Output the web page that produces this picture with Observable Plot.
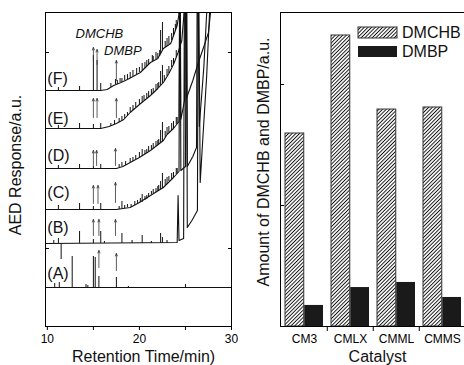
<!DOCTYPE html>
<html><head><meta charset="utf-8">
<script src="https://cdn.jsdelivr.net/npm/d3@7"></script>
<script src="https://cdn.jsdelivr.net/npm/@observablehq/plot@0.6"></script>
<style>
html,body{margin:0;padding:0;background:#fff;}
#wrap{position:relative;width:464px;height:365px;overflow:hidden;font-family:"Liberation Sans",Arial,sans-serif;}
#wrap svg{position:absolute;top:0;}
</style></head><body><div id="wrap"></div>
<script>
// ---------- Left panel: chromatograms (retention time in min, response in a.u.) ----------
const traceNames = ["A", "B", "C", "D", "E", "F"];
const curveA = [[9.8,39],[30,39]];
const curveB = [[9.8,83],[24.1,84],[24.2,131],[24.3,86],[24.8,88],[24.9,400],[25.1,400],[25.2,99],[25.7,106],[26.3,116],[26.4,400],[26.6,144],[26.9,190],[27.3,250],[27.7,330]];
const curveC = [[9.8,117],[17.5,117],[18.2,118],[19.0,119],[20.0,124],[21.2,131],[22.6,139],[23.7,149],[24.3,155],[24.4,400],[24.5,156],[25.0,160],[25.1,400],[25.2,160],[25.8,170],[26.2,179],[26.3,400],[26.5,200],[27.0,260],[27.4,330]];
const curveD = [[9.8,158],[17.5,158],[18.2,160],[19.0,164],[20.0,169],[21.2,176],[22.6,186],[23.0,192],[23.7,198],[24.3,205],[24.4,400],[24.5,207],[24.9,226],[25.0,400],[25.1,228],[25.8,246],[26.4,264],[27.0,280],[27.5,294],[27.9,330]];
const curveE = [[9.8,198],[15.8,198],[16.7,200],[17.5,203],[18.3,207],[19.0,214],[20.0,222],[21.2,231],[22.0,238],[22.6,244],[23.2,253],[23.7,262],[24.2,274],[24.6,286],[25.0,330]];
const curveF = [[9.8,236],[15.8,236],[16.5,237],[17.2,241],[18.0,244],[18.7,247],[19.5,251],[20.1,254],[21.2,264],[22.0,268],[22.6,278],[23.4,283],[24.1,301],[24.6,330]];

// peaks: [time, base, top]
const peaksA = [[10.8,39,43],[11.3,39,44],[12.7,39,70],[14.2,39,42],[14.4,39,41],[15.0,39,70],[15.2,39,69],[15.6,39,50],[17.5,39,49],[18.8,39,40],[25.0,39,42]];
const peaksB = [[10.7,83,86],[11.2,83,88],[11.5,83,67],[13.5,83,95],[15.0,83,87],[15.8,83,95],[16.2,83,85],[18.1,83,93],[19.2,83,86],[20.3,83,91],[21.3,83,85],[22.3,83,93],[22.5,83,89],[23.0,83,86]];
const peaksC = [[11.2,117,121],[13.5,117,123],[15.0,117,120],[15.8,117,123],[17.8,117,120],[18.1,118,125],[18.4,118,121],[18.7,119,122],[19.1,119,122],[19.5,121,125],[19.8,123,126],[20.1,124,128],[20.3,124,132],[20.6,126,130],[20.8,127,131],[21.0,129,133],[21.3,132,135],[21.5,133,137],[21.8,134,138],[22.0,135,140],[22.1,136,141],[22.3,137,145],[22.5,138,153],[22.8,141,147],[23.0,142,149],[23.2,145,150],[23.5,147,153],[23.7,149,154],[24.0,152,158],[24.1,153,158]];
const peaksD = [[11.2,158,161],[13.5,158,162],[15.0,158,160],[15.8,158,162],[17.8,159,162],[18.1,160,164],[18.5,161,165],[19.0,164,168],[19.3,165,169],[19.6,167,171],[20.0,169,174],[20.3,170,177],[20.6,172,176],[20.8,173,177],[21.0,175,180],[21.3,177,181],[21.5,178,183],[21.8,180,185],[22.0,181,186],[22.1,182,187],[22.3,184,196],[22.5,185,204],[22.8,189,195],[23.0,192,199],[23.2,194,200],[23.5,196,203],[23.7,198,205],[24.0,202,209],[24.1,203,209]];
const peaksE = [[11.2,198,201],[13.5,198,203],[15.0,198,202],[15.8,198,203],[16.9,200,203],[17.3,202,206],[17.8,204,208],[18.1,206,210],[18.4,208,212],[18.7,210,214],[19.0,214,219],[19.3,216,221],[19.6,219,224],[20.0,222,227],[20.3,224,230],[20.5,226,231],[20.8,228,233],[21.0,229,235],[21.3,232,237],[21.5,233,238],[21.8,236,242],[22.0,238,243],[22.1,239,244],[22.3,241,255],[22.5,243,261],[22.7,245,251],[23.0,250,257],[23.2,253,260],[23.5,259,266],[23.7,262,268],[24.0,269,276],[24.4,280,287]];
const peaksF = [[11.2,236,239],[13.5,236,240],[15.0,236,271],[15.4,236,266],[15.8,236,243],[16.9,239,243],[17.4,242,247],[17.6,242,246],[17.9,244,248],[18.1,244,248],[18.4,246,251],[18.7,247,252],[19.0,248,254],[19.3,250,256],[19.7,252,258],[20.0,254,259],[20.3,256,263],[20.6,258,264],[20.8,260,266],[21.0,262,267],[21.4,265,271],[21.5,265,270],[21.8,267,274],[22.0,268,273],[22.2,270,276],[22.3,272,296],[22.5,276,304],[22.8,279,285],[23.0,280,288],[23.2,282,290],[23.5,286,293],[23.7,290,298],[23.9,295,302],[24.0,298,306],[24.3,312,318]];

// arrows marking DMCHB / DMBP: [time, from, to]
const arrowsA = [[15.6,59,76],[17.5,56,73]];
const arrowsB = [[15.0,91,107],[15.6,91,107],[17.4,91,107]];
const arrowsC = [[15.0,123,141],[15.5,123,141],[17.4,124,144]];
const arrowsD = [[15.0,161,176],[15.35,161,176],[17.4,161,178]];
const arrowsE = [[15.0,209,228],[15.4,209,228],[17.5,209,228]];
const arrowsF = [[15.0,266,279],[15.4,262,277],[17.5,246,266]];

const traceLabels = ["(A)", "(B)", "(C)", "(D)", "(E)", "(F)"];
const xTicksLeft = [10, 15, 20, 25, 30];
const yTicksLeft = [78, 274];

// ---------- Right panel: bar chart ----------
const categories = ["CM3", "CMLX", "CMML", "CMMS"];
const dmchb = [1.595, 2.405, 1.793, 1.81];
const dmbp = [0.174, 0.322, 0.364, 0.24];
const yTicksRight = [0, 1, 2];

// ---------- build tables ----------
const curves = [curveA, curveB, curveC, curveD, curveE, curveF];
const peaks = [peaksA, peaksB, peaksC, peaksD, peaksE, peaksF];
const arrows = [arrowsA, arrowsB, arrowsC, arrowsD, arrowsE, arrowsF];
const lineRows = curves.flatMap((c, i) => c.map(([t, v]) => ({trace: traceNames[i], t, v})));
const peakRows = peaks.flatMap((p, i) => p.map(([t, y1, y2]) => ({trace: traceNames[i], t, y1, y2})));
const arrowRows = arrows.flatMap((a, i) => a.map(([t, y1, y2]) => ({trace: traceNames[i], t, y1, y2})));
const labelAnchors = {x: 10.0, y: [53, 99, 134, 171, 208, 248]};
const labelRows = traceLabels.map((s, i) => ({s, x: labelAnchors.x, y: labelAnchors.y[i]}));
const compoundRows = [{s: "DMCHB", x: 15.65, y: 293}, {s: "DMBP", x: 18.2, y: 276}];

const font = "Liberation Sans, Arial, sans-serif";
const wrap = document.getElementById("wrap");

const left = Plot.plot({
  width: 240, height: 365,
  marginLeft: 45, marginRight: 9, marginTop: 12, marginBottom: 39,
  style: {fontFamily: font, fontSize: "12px", color: "black", background: "transparent", overflow: "visible"},
  x: {domain: [9.8, 30], ticks: xTicksLeft, tickFormat: d => d % 10 === 0 ? String(d) : "", tickSize: 4, tickPadding: 4, label: null},
  y: {domain: [0, 314], ticks: yTicksLeft, tickFormat: () => "", tickSize: -4, axis: "both", label: null},
  marks: [
    Plot.line(lineRows, {x: "t", y: "v", z: "trace", stroke: "#111", strokeWidth: 1.1, clip: true}),
    Plot.ruleX(peakRows, {x: "t", y1: "y1", y2: "y2", stroke: "#111", strokeWidth: 1, clip: true}),
    Plot.arrow(arrowRows, {x1: "t", x2: "t", y1: "y1", y2: "y2", stroke: "#333", strokeWidth: 0.8, headLength: 5, headAngle: 45}),
    Plot.text(labelRows, {x: "x", y: "y", text: "s", textAnchor: "start", fontSize: 16, fill: "#111"}),
    Plot.text(compoundRows, {x: "x", y: "y", text: "s", fontSize: 13, fontStyle: "italic", fill: "#111"}),
    Plot.frame({stroke: "black"})
  ]
});
left.style.left = "0px";
wrap.appendChild(left);

const barRows = categories.flatMap((c, i) => [
  {cat: c, series: "DMCHB", v: dmchb[i]},
  {cat: c, series: "DMBP", v: dmbp[i]}
]);

const right = Plot.plot({
  width: 226, height: 365,
  marginLeft: 40, marginRight: 0, marginTop: 12, marginBottom: 39,
  style: {fontFamily: font, fontSize: "12px", color: "black", background: "transparent", overflow: "visible"},
  x: {domain: categories, padding: 0, tickSize: 0, tickPadding: 8, label: null},
  y: {domain: [0, 2.595], ticks: yTicksRight, tickFormat: () => "", tickSize: -4, label: null},
  marks: [
    Plot.barY(barRows.filter(d => d.series === "DMCHB"), {x: "cat", y: "v", fill: "url(#hatch)", stroke: "#333", strokeWidth: 1, insetLeft: 4, insetRight: 23.25}),
    Plot.barY(barRows.filter(d => d.series === "DMBP"), {x: "cat", y: "v", fill: "#1a1a1a", insetLeft: 23.25, insetRight: 4}),
    Plot.ruleX(categories.slice(1), {x: d => d, y1: 0, y2: 0, dx: -23.25, insetBottom: -5, stroke: "black"}),
    Plot.frame({stroke: "black"})
  ]
});
right.style.left = "240px";
wrap.appendChild(right);

// overlay: hatch pattern, axis titles, legend
const ov = d3.create("svg").attr("width", 464).attr("height", 365)
  .style("left", "0px").style("pointer-events", "none")
  .attr("font-family", font).attr("font-size", 16).attr("fill", "#111");
const pat = ov.append("defs").append("pattern").attr("id", "hatch")
  .attr("patternUnits", "userSpaceOnUse").attr("width", 2.6).attr("height", 2.6)
  .attr("patternTransform", "rotate(45)");
pat.append("rect").attr("width", 2.6).attr("height", 2.6).attr("fill", "white");
pat.append("line").attr("x1", 1.3).attr("x2", 1.3).attr("y1", 0).attr("y2", 2.6)
  .attr("stroke", "#111").attr("stroke-width", 0.95);

ov.append("text").attr("transform", "translate(21,165) rotate(-90)").attr("text-anchor", "middle").text("AED Response/a.u.");
ov.append("text").attr("transform", "translate(269,162) rotate(-90)").attr("text-anchor", "middle").text("Amount of DMCHB and DMBP/a.u.");
ov.append("text").attr("x", 72).attr("y", 361.5).text("Retention Time/min)");
ov.append("text").attr("x", 377.5).attr("y", 361.5).attr("text-anchor", "middle").text("Catalyst");

const legendSeries = ["DMCHB", "DMBP"];
const legendFill = ["url(#hatch)", "#1a1a1a"];
legendSeries.forEach((s, i) => {
  const cy = 32 + i * 19;
  ov.append("rect").attr("x", 358).attr("y", cy - 5).attr("width", 39).attr("height", 11)
    .attr("fill", legendFill[i]).attr("stroke", "#333").attr("stroke-width", i === 0 ? 1 : 0);
  ov.append("text").attr("x", 402).attr("y", cy + 6).text(s);
});
wrap.appendChild(ov.node());
</script></body></html>
